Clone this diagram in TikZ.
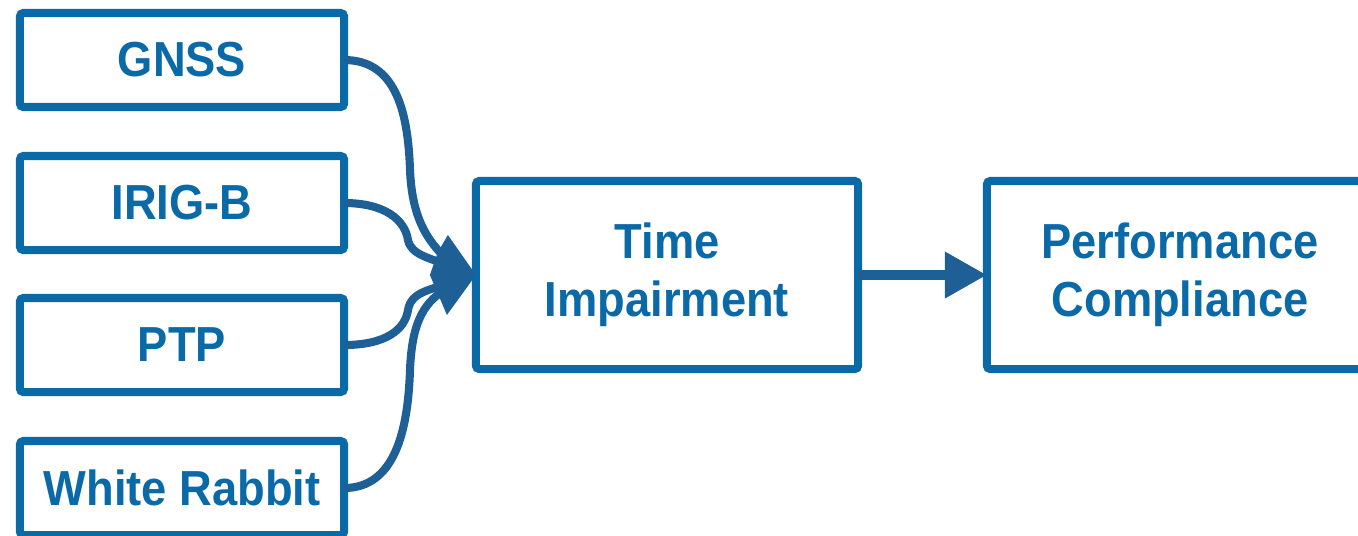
\documentclass[tikz,border=0pt]{standalone}
\usepackage{fontspec}
\newfontfamily\labelfont{Liberation Sans}[FakeStretch=0.92]
\usetikzlibrary{arrows.meta}
\definecolor{boxblue}{RGB}{10,106,168}
\definecolor{lineblue}{RGB}{30,95,150}
\tikzset{
  srcbox/.style={draw=boxblue, line width=2.3pt, rounded corners=1pt, inner sep=0pt, outer sep=0pt,
    minimum width=3.24cm, minimum height=0.94cm, text=boxblue,
    font=\labelfont\bfseries\fontsize{14}{16.5}\selectfont},
  bigbox/.style={srcbox, minimum height=1.88cm, align=center},
  feed/.style={draw=lineblue, line width=2.3pt},
  mainarrow/.style={draw=lineblue, line width=2.85pt, -{Triangle[length=0.42cm, width=0.44cm]}}
}
\begin{document}
\begin{tikzpicture}[x=0.01cm, y=-0.01cm]
\useasboundingbox (0,0) rectangle (1358,535);
\node[srcbox] (gnss) at (182,60) {GNSS};
\node[srcbox] (irig) at (182,203) {IRIG-B};
\node[srcbox] (ptp) at (182,345) {PTP};
\node[srcbox] (wr) at (182,488) {White Rabbit};
\node[bigbox, minimum width=3.82cm] (ti) at (667,275) {Time\\Impairment};
\node[bigbox, minimum width=3.86cm] (pc) at (1180,275) {Performance\\Compliance};
\coordinate (tip) at (ti.west);
\draw[feed] (gnss.east) .. controls (395,60) and (408,110) .. (410,170) .. controls (412,215) and (425,240) .. (450,262);
\draw[feed] (irig.east) .. controls (385,203) and (405,220) .. (408,240) .. controls (411,255) and (430,258) .. (450,266);
\draw[feed] (ptp.east) .. controls (385,345) and (405,330) .. (408,310) .. controls (411,292) and (430,290) .. (450,283);
\draw[feed] (wr.east) .. controls (395,488) and (408,430) .. (410,370) .. controls (412,320) and (425,300) .. (450,287);
\fill[lineblue] (tip) -- +(-28,-40) -- +(-38,-23) -- +(-46,0) -- +(-37,21) -- +(-29,40) -- cycle;
\draw[mainarrow] (ti.east) -- (pc.west);
\end{tikzpicture}
\end{document}
